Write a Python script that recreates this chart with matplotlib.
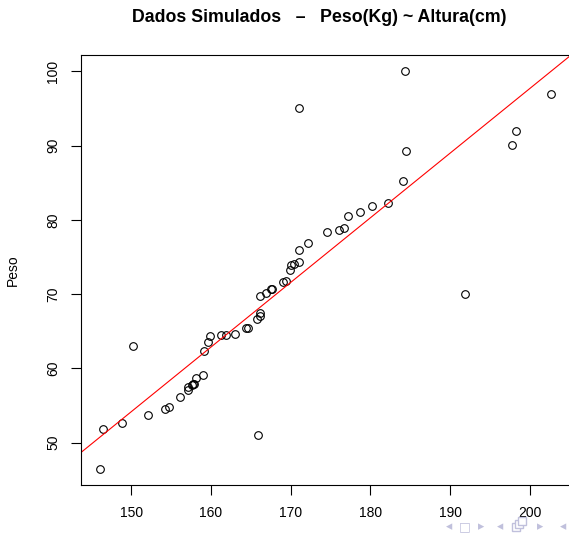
import numpy as np
import matplotlib
matplotlib.use("Agg")
import matplotlib.pyplot as plt
from matplotlib.patches import Rectangle

plt.rcParams['font.family'] = ['Liberation Sans', 'DejaVu Sans']

# dados
altura = [146.1, 146.5, 148.9, 150.2, 152.1, 154.3, 154.8, 156.1, 157.1, 157.1,
          157.6, 157.8, 157.9, 158.1, 159.0, 159.1, 159.6, 159.85, 161.3, 161.9,
          163.0, 164.4, 164.6, 165.8, 165.9, 166.1, 166.1, 166.2, 166.9, 167.6,
          167.7, 169.1, 169.4, 169.9, 170.0, 170.4, 171.0, 171.0, 171.0, 172.2,
          174.6, 176.1, 176.7, 177.2, 178.7, 180.25, 182.2, 184.1, 184.4, 184.5,
          191.9, 197.7, 198.2, 202.7]
peso = [46.4, 51.9, 52.7, 63.05, 53.7, 54.5, 54.8, 56.2, 57.1, 57.5,
        57.8, 57.9, 57.9, 58.7, 59.1, 62.4, 63.6, 64.4, 64.5, 64.5,
        64.6, 65.4, 65.5, 66.7, 51.0, 67.1, 67.5, 69.7, 70.2, 70.7,
        70.7, 71.6, 71.7, 73.2, 73.9, 74.1, 74.3, 76.0, 95.0, 76.9,
        78.4, 78.6, 78.9, 80.5, 81.0, 81.9, 82.3, 85.2, 100.0, 89.3,
        70.0, 90.1, 91.9, 96.9]

# reta ajustada
intercepto = -76.42
inclinacao = 0.8705

fig = plt.figure(figsize=(5.69, 5.34), dpi=100)
ax = fig.add_axes([81 / 569, 49 / 534, 491 / 569, 430 / 534])

ax.plot(altura, peso, 'o', mfc='none', mec='black', ms=5.5, mew=0.8)
ax.axline((0, intercepto), slope=inclinacao, color='red', lw=0.8)

ax.set_xlim(143.72, 205.28)
ax.set_ylim(44.31, 102.18)
ax.set_xticks([150, 160, 170, 180, 190, 200])
ax.set_yticks([50, 60, 70, 80, 90, 100])
ax.tick_params(direction='out', length=7, width=0.8, labelsize=10, pad=8)
for lab in ax.get_yticklabels():
    lab.set_rotation(90)
    lab.set_va('center')
for s in ax.spines.values():
    s.set_linewidth(0.8)

ax.set_ylabel("Peso", fontsize=10, labelpad=19)
fig.text(319 / 569, 1 - 18 / 534, "Dados Simulados   \u2013   Peso(Kg) ~ Altura(cm)",
         ha='center', va='center', fontsize=12.8, fontweight='bold')

# icones de navegacao do beamer
cor_nav = '#c0c0dc'
nav = [(449, '\u25c2'), (465, '\u25a1'), (481, '\u25b8'), (500, '\u25c2'),
       (540, '\u25b8'), (563, '\u25c2')]
for x, sym in nav:
    fig.text(x / 569, 1 - 527 / 534, sym, ha='center', va='center',
             fontsize=9, color=cor_nav, family='DejaVu Sans')
# simbolo de janelas sobrepostas (sem glifo nas fontes instaladas)
for dx, dy in [(0, 0), (3, 3), (6, 6)]:
    fig.patches.append(Rectangle(((512 + dx) / 569, (3 + dy) / 534), 8 / 569, 8 / 534,
                                 transform=fig.transFigure, fill=True, fc='white',
                                 ec=cor_nav, lw=1))

fig.savefig("out.png", dpi=100)
